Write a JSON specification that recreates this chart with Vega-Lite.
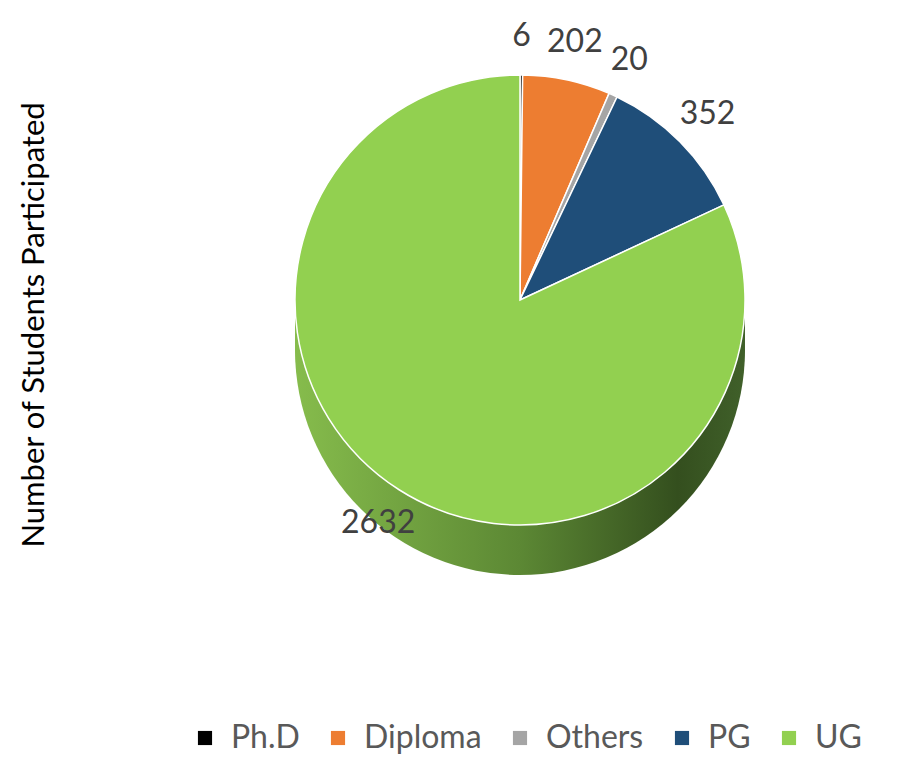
{
  "$schema": "https://vega.github.io/schema/vega-lite/v6.json",
  "width": 798,
  "height": 650,
  "autosize": {"type": "none"},
  "background": "white",
  "padding": {"left": 121, "right": 0, "top": 0, "bottom": 110},
  "title": {
    "text": "Number of Students Participated",
    "orient": "left",
    "anchor": "middle",
    "fontSize": 31,
    "font": "Lato",
    "fontWeight": "normal",
    "color": "#000000",
    "offset": 70
  },
  "datasets": {
    "main": [
      {"level": "Ph.D", "students": 6, "seq": 1},
      {"level": "Diploma", "students": 202, "seq": 2},
      {"level": "Others", "students": 20, "seq": 3},
      {"level": "PG", "students": 352, "seq": 4},
      {"level": "UG", "students": 2632, "seq": 5}
    ],
    "total": [{"students": 3212}]
  },
  "layer": [
    {"data": {"name": "total"}, "mark": {"type": "arc", "outerRadius": 225, "yOffset": 25, "color": {"gradient": "linear", "x1": 0, "y1": 0, "x2": 1, "y2": 0, "stops": [{"offset": 0, "color": "#86BC4C"}, {"offset": 0.5, "color": "#5C8834"}, {"offset": 0.85, "color": "#344F1E"}, {"offset": 1, "color": "#40602A"}]}}, "encoding": {"theta": {"field": "students", "type": "quantitative"}}},
    {"data": {"name": "total"}, "mark": {"type": "arc", "outerRadius": 225, "yOffset": 15, "color": {"gradient": "linear", "x1": 0, "y1": 0, "x2": 1, "y2": 0, "stops": [{"offset": 0, "color": "#86BC4C"}, {"offset": 0.5, "color": "#5C8834"}, {"offset": 0.85, "color": "#344F1E"}, {"offset": 1, "color": "#40602A"}]}}, "encoding": {"theta": {"field": "students", "type": "quantitative"}}},
    {"data": {"name": "total"}, "mark": {"type": "arc", "outerRadius": 225, "yOffset": 5, "color": {"gradient": "linear", "x1": 0, "y1": 0, "x2": 1, "y2": 0, "stops": [{"offset": 0, "color": "#86BC4C"}, {"offset": 0.5, "color": "#5C8834"}, {"offset": 0.85, "color": "#344F1E"}, {"offset": 1, "color": "#40602A"}]}}, "encoding": {"theta": {"field": "students", "type": "quantitative"}}},
    {"data": {"name": "total"}, "mark": {"type": "arc", "outerRadius": 225, "yOffset": -5, "color": {"gradient": "linear", "x1": 0, "y1": 0, "x2": 1, "y2": 0, "stops": [{"offset": 0, "color": "#86BC4C"}, {"offset": 0.5, "color": "#5C8834"}, {"offset": 0.85, "color": "#344F1E"}, {"offset": 1, "color": "#40602A"}]}}, "encoding": {"theta": {"field": "students", "type": "quantitative"}}},
    {"data": {"name": "total"}, "mark": {"type": "arc", "outerRadius": 225, "yOffset": -15, "color": {"gradient": "linear", "x1": 0, "y1": 0, "x2": 1, "y2": 0, "stops": [{"offset": 0, "color": "#86BC4C"}, {"offset": 0.5, "color": "#5C8834"}, {"offset": 0.85, "color": "#344F1E"}, {"offset": 1, "color": "#40602A"}]}}, "encoding": {"theta": {"field": "students", "type": "quantitative"}}},
    {
      "data": {"name": "main"},
      "mark": {"type": "arc", "outerRadius": 225, "yOffset": -25, "stroke": "white", "strokeWidth": 1.5},
      "encoding": {
        "theta": {"field": "students", "type": "quantitative", "stack": true},
        "order": {"field": "seq", "type": "quantitative"},
        "color": {
          "field": "level",
          "type": "nominal",
          "scale": {"domain": ["Ph.D", "Diploma", "Others", "PG", "UG"], "range": ["#000000", "#ED7D31", "#A5A5A5", "#1F4E79", "#92D050"]},
          "legend": {
            "orient": "none",
            "legendX": 68,
            "legendY": 722,
            "direction": "horizontal",
            "title": null,
            "symbolType": "square",
            "symbolSize": 200,
            "symbolStrokeWidth": 0,
            "labelFontSize": 32,
            "labelFont": "Lato",
            "labelColor": "#595959",
            "columnPadding": 22,
            "gridAlign": "none",
            "labelOffset": 10
          }
        }
      }
    },
    {
      "data": {"name": "main"},
      "mark": {"type": "text", "radius": 264, "yOffset": -25, "fontSize": 32, "font": "Lato", "color": "#404040"},
      "encoding": {
        "theta": {"field": "students", "type": "quantitative", "stack": true},
        "order": {"field": "seq", "type": "quantitative"},
        "text": {"field": "students", "type": "quantitative"}
      }
    }
  ],
  "config": {"view": {"stroke": null}}
}
